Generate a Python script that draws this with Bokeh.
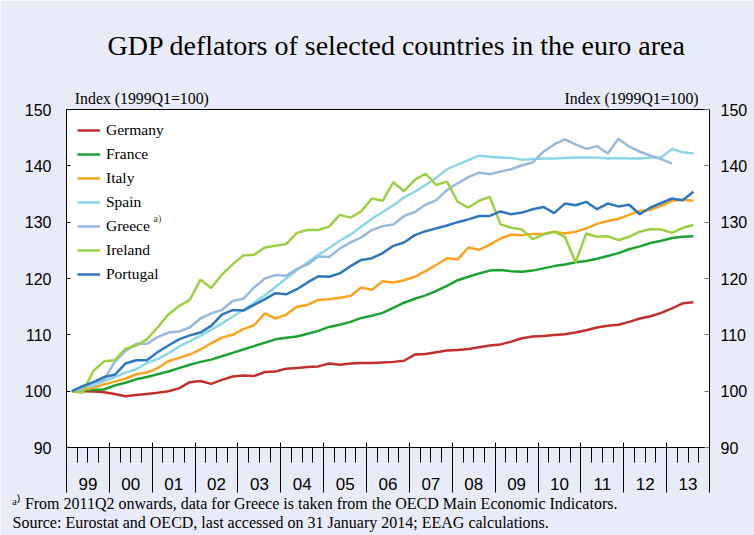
from bokeh.plotting import figure
from bokeh.models import LinearAxis, FixedTicker, Range1d, Label, Legend, LegendItem, Title
from bokeh.embed import file_html
from bokeh.resources import INLINE

# ---------------- data (quarterly, 1999Q1 = 100) ----------------
years = ["99", "00", "01", "02", "03", "04", "05", "06", "07", "08", "09", "10", "11", "12", "13"]
y_ticks = [90, 100, 110, 120, 130, 140, 150]

germany = [100.0, 100.0, 99.95, 99.8, 99.5, 99.1, 99.3, 99.5, 99.7, 100.0, 100.5, 101.6,
           101.8, 101.3, 102.0, 102.6, 102.8, 102.7, 103.4, 103.5, 104.0, 104.1, 104.3, 104.4,
           104.9, 104.7, 104.9, 105.0, 105.0, 105.1, 105.2, 105.4, 106.5, 106.6, 106.9, 107.2,
           107.3, 107.5, 107.8, 108.1, 108.3, 108.8, 109.4, 109.7, 109.8, 109.95, 110.1, 110.4,
           110.8, 111.3, 111.6, 111.8, 112.3, 112.9, 113.3, 113.9, 114.7, 115.6, 115.8]
france = [100.0, 100.2, 100.2, 100.3, 101.0, 101.5, 102.1, 102.5, 103.0, 103.5, 104.1, 104.7,
          105.2, 105.6, 106.2, 106.8, 107.4, 108.0, 108.6, 109.2, 109.5, 109.7, 110.2, 110.7,
          111.4, 111.8, 112.3, 113.0, 113.4, 113.9, 114.8, 115.7, 116.4, 117.0, 117.8, 118.7,
          119.7, 120.3, 120.9, 121.4, 121.5, 121.3, 121.2, 121.4, 121.8, 122.2, 122.5, 122.9,
          123.1, 123.5, 124.0, 124.5, 125.2, 125.7, 126.3, 126.7, 127.2, 127.4, 127.5]
italy = [100.0, 100.2, 100.6, 101.2, 101.7, 102.2, 103.0, 103.3, 104.1, 105.3, 105.9, 106.5,
         107.4, 108.5, 109.5, 110.0, 111.0, 111.7, 113.8, 112.9, 113.6, 115.0, 115.3, 116.2,
         116.3, 116.6, 116.9, 118.4, 118.0, 119.5, 119.3, 119.7, 120.3, 121.3, 122.4, 123.6,
         123.4, 125.5, 125.1, 126.0, 127.1, 127.8, 127.7, 127.9, 127.9, 128.3, 128.0, 128.3,
         128.9, 129.7, 130.2, 130.6, 131.3, 132.0, 132.2, 132.9, 133.8, 134.0, 133.8]
spain = [100.0, 100.4, 101.0, 101.8, 102.5, 103.3, 103.9, 105.0, 105.7, 106.7, 107.9, 108.9,
         109.8, 110.9, 112.0, 113.2, 114.4, 115.7, 117.0, 118.5, 120.0, 121.5, 122.9, 124.2,
         125.4, 126.7, 127.8, 129.2, 130.6, 131.8, 133.0, 134.4, 135.4, 136.6, 137.9, 139.4,
         140.2, 141.0, 141.8, 141.6, 141.5, 141.4, 141.1, 141.2, 141.3, 141.3, 141.4, 141.5,
         141.5, 141.5, 141.3, 141.4, 141.3, 141.3, 141.5, 141.5, 143.0, 142.4, 142.2]
greece = [100.0, 100.6, 101.5, 102.0, 105.2, 107.1, 108.4, 108.4, 109.6, 110.4, 110.6, 111.3,
          112.9, 113.8, 114.4, 116.0, 116.4, 118.4, 120.0, 120.6, 120.5, 121.7, 122.5, 123.9,
          123.8, 125.3, 126.4, 127.3, 128.6, 129.3, 129.6, 131.1, 131.8, 133.1, 133.9, 135.7,
          136.9, 138.0, 138.8, 138.5, 139.0, 139.4, 140.1, 140.6, 142.5, 143.8, 144.7, 143.8,
          143.0, 143.5, 142.2, 144.8, 143.4, 142.5, 141.8, 141.2, 140.4]
ireland = [100.0, 99.7, 103.6, 105.3, 105.5, 107.5, 108.1, 109.2, 111.3, 113.6, 115.1, 116.2,
           119.8, 118.3, 120.7, 122.5, 124.1, 124.2, 125.5, 125.8, 126.1, 128.1, 128.6, 128.6,
           129.2, 131.3, 130.8, 131.9, 134.2, 133.8, 137.1, 135.5, 137.5, 138.6, 136.6, 137.2,
           133.6, 132.6, 133.8, 134.5, 129.6, 129.0, 128.7, 127.0, 127.8, 128.3, 127.4, 122.9,
           128.0, 127.4, 127.5, 126.8, 127.4, 128.3, 128.8, 128.7, 128.1, 129.0, 129.5]
portugal = [100.0, 100.9, 101.6, 102.5, 102.9, 104.9, 105.5, 105.5, 106.9, 108.1, 109.2, 109.9,
            110.4, 111.6, 113.6, 114.4, 114.3, 115.3, 116.3, 117.4, 117.2, 118.1, 119.3, 120.4,
            120.3, 120.9, 122.2, 123.3, 123.6, 124.5, 125.8, 126.4, 127.7, 128.4, 128.9, 129.4,
            130.0, 130.5, 131.1, 131.1, 131.9, 131.4, 131.7, 132.3, 132.7, 131.6, 133.3, 133.0,
            133.6, 132.3, 133.3, 132.8, 133.1, 131.4, 132.6, 133.4, 134.2, 133.9, 135.4]

series = [
    ("Germany", germany, "#c0302b"),
    ("France", france, "#1ea332"),
    ("Italy", italy, "#f9a420"),
    ("Spain", spain, "#8dd6e7"),
    ("Greece", greece, "#98b9df"),
    ("Ireland", ireland, "#9dcf46"),
    ("Portugal", portugal, "#2f77bd"),
]

unit_label = "Index (1999Q1=100)"
title_text = "GDP deflators of selected countries in the euro area"
note_text = "\u1d43\u207e From 2011Q2 onwards, data for Greece is taken from the OECD Main Economic Indicators."
source_text = "Source: Eurostat and OECD, last accessed on 31 January 2014; EEAG calculations."

BG = "#e9ecf8"
SERIF = "Liberation Serif"
SANS = "Liberation Sans"

n_q = 4 * len(years)

p = figure(width=754, height=535, output_backend="svg", toolbar_location=None,
           x_range=Range1d(0, n_q), y_range=Range1d(y_ticks[0], y_ticks[-1]),
           x_axis_type=None,
           min_border_left=66, min_border_right=45, min_border_top=109, min_border_bottom=88,
           background_fill_color="white", border_fill_color=BG,
           outline_line_color="black", outline_line_width=1)
p.ygrid.visible = False

# left axis
ya = p.yaxis[0]
ya.ticker = FixedTicker(ticks=y_ticks, minor_ticks=[])
ya.major_tick_in = 4
ya.major_tick_out = 0
ya.minor_tick_line_color = None
ya.axis_line_color = "black"
ya.major_tick_line_color = "black"
ya.major_label_standoff = 15
ya.major_label_text_font = SANS
ya.major_label_text_font_size = "16px"
ya.major_label_text_color = "black"

# right axis
ra = LinearAxis(ticker=FixedTicker(ticks=y_ticks, minor_ticks=[]))
ra.major_tick_in = 5
ra.major_tick_out = 0
ra.minor_tick_line_color = None
ra.axis_line_color = "black"
ra.major_tick_line_color = "#777777"
ra.major_label_standoff = 11
ra.major_label_text_font = SANS
ra.major_label_text_font_size = "16px"
ra.major_label_text_color = "black"
p.add_layout(ra, "right")

# bottom axis: year labels at year centres, quarter ticks
centres = [4 * k + 2 for k in range(len(years))]
bounds = [4 * k for k in range(len(years) + 1)]
quarters = list(range(n_q + 1))
xl = LinearAxis(ticker=FixedTicker(ticks=centres, minor_ticks=quarters))
xl.major_label_overrides = {c: y for c, y in zip(centres, years)}
xl.major_tick_in = 0
xl.major_tick_out = 15
xl.major_tick_line_color = None
xl.minor_tick_in = 0
xl.minor_tick_out = 15
xl.minor_tick_line_color = "black"
xl.axis_line_color = "black"
xl.major_label_standoff = 15
xl.major_label_text_font = SANS
xl.major_label_text_font_size = "17px"
xl.major_label_text_color = "black"
p.add_layout(xl, "below")

# year separators
xs = LinearAxis(ticker=FixedTicker(ticks=bounds, minor_ticks=[]))
xs.major_tick_in = 50
xs.major_tick_out = 0
xs.major_tick_line_color = "black"
xs.minor_tick_line_color = None
xs.axis_line_color = None
xs.major_label_standoff = 0
xs.major_label_text_font_size = "0px"
xs.major_label_text_alpha = 0
p.add_layout(xs, "below")

# unit labels above the plot (as tick labels of a top axis)
unit_pos = [7.03, 52.73]
ua = LinearAxis(ticker=FixedTicker(ticks=unit_pos, minor_ticks=[]))
ua.major_label_overrides = {u: unit_label for u in unit_pos}
ua.major_tick_in = 0
ua.major_tick_out = 0
ua.minor_tick_line_color = None
ua.axis_line_color = None
ua.major_label_standoff = 3
ua.major_label_text_font = SERIF
ua.major_label_text_font_size = "15.8px"
ua.major_label_text_color = "black"
p.add_layout(ua, "above")

# main title
t = Title(text=title_text, align="left", offset=41, standoff=52,
          text_font=SERIF, text_font_size="28px", text_font_style="normal", text_color="black")
p.add_layout(t, "above")

# footnotes
f1 = Title(text=note_text, align="left", offset=-54, standoff=0,
           text_font=SERIF, text_font_size="16px", text_font_style="normal", text_color="black")
f2 = Title(text=source_text, align="left", offset=-54, standoff=0,
           text_font=SERIF, text_font_size="16px", text_font_style="normal", text_color="black")
p.add_layout(f1, "below")
p.add_layout(f2, "below")

items = []
for name, vals, col in series:
    xv = [i + 0.5 for i in range(len(vals))]
    r = p.line(xv, vals, line_color=col, line_width=2.5)
    items.append(LegendItem(label=name, renderers=[r]))

leg = Legend(items=items, location="top_left")
leg.margin = 11
leg.padding = 0
leg.spacing = 4
leg.label_height = 20
leg.glyph_height = 20
leg.glyph_width = 23
leg.label_standoff = 6
leg.label_text_font = SERIF
leg.label_text_font_size = "15.5px"
leg.label_text_color = "black"
leg.background_fill_alpha = 0
leg.border_line_color = None
p.add_layout(leg)

# superscript on Greece legend entry
p.add_layout(Label(x=8.12, y=130.0, text="a)", text_font=SERIF, text_font_size="10px",
                   text_baseline="middle", text_align="left", y_offset=4))

open("out.html", "w").write(file_html(p, INLINE))
